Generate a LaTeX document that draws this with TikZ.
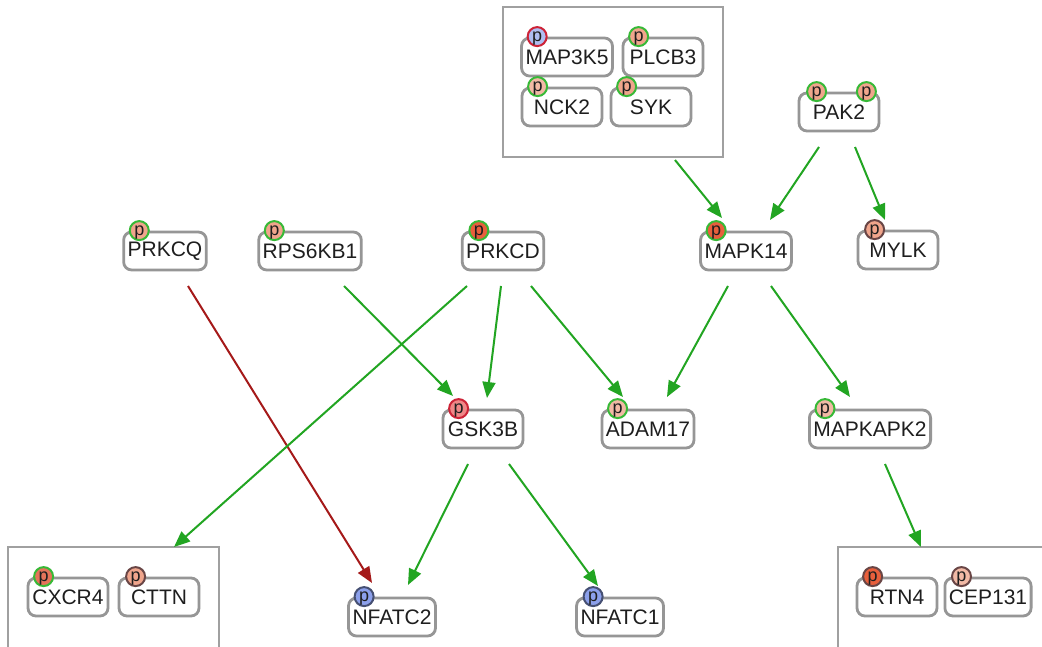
\documentclass[tikz,border=0pt]{standalone}
\usepackage{fontspec}
\setmainfont{Liberation Sans}
\usetikzlibrary{arrows.meta}

\definecolor{boxgray}{RGB}{150,150,150}
\definecolor{grpgray}{RGB}{160,160,160}
\definecolor{txt}{RGB}{30,30,30}
\definecolor{actgreen}{RGB}{34,165,34}
\definecolor{inhred}{RGB}{165,25,25}
\definecolor{ringgreen}{RGB}{55,185,55}
\definecolor{ringred}{RGB}{205,35,55}
\definecolor{ringdark}{RGB}{105,70,70}
\definecolor{ringblue}{RGB}{70,80,115}
\definecolor{fsalmon}{RGB}{240,165,140}
\definecolor{flight}{RGB}{242,185,165}
\definecolor{forange}{RGB}{232,95,60}
\definecolor{fred}{RGB}{230,115,90}
\definecolor{fpink}{RGB}{240,135,135}
\definecolor{fblue}{RGB}{140,160,235}
\definecolor{fpaleblue}{RGB}{175,190,242}

\begin{document}
\begin{tikzpicture}[x=1pt,y=-1pt,
  prot/.style={draw=boxgray, line width=2.8pt, rounded corners=8pt, fill=white,
    minimum height=38pt, minimum width=80pt, inner xsep=4pt, inner ysep=0pt,
    text=txt, font=\fontsize{21}{21}\selectfont},
  ph/.style={circle, line width=2pt, minimum size=19pt, inner sep=0pt,
    text depth=0pt, text height=9pt,
    text=txt, font=\fontsize{18}{18}\selectfont},
  grp/.style={draw=grpgray, line width=1.2pt, fill=none, inner sep=0pt},
  act/.style={draw=actgreen, line width=2pt, -{Triangle[length=16pt,width=13pt]}},
  inh/.style={draw=inhred, line width=2pt, -{Triangle[length=16pt,width=13pt]}}
]
\clip (0,0) rectangle (1042,647);
\fill[white] (0,0) rectangle (1042,647);

% complexes
\node[grp, minimum width=220pt, minimum height=150pt] (cplxA) at (613,82) {};
\node[grp, minimum width=211pt, minimum height=153pt] (cplxB) at (113.5,623.5) {};
\node[grp, minimum width=222pt, minimum height=153pt] (cplxC) at (949,623.5) {};

% proteins
\node[prot] (map3k5) at (567,57) {MAP3K5};
\node[prot] (plcb3) at (663,57) {PLCB3};
\node[prot] (nck2) at (562,107) {NCK2};
\node[prot] (syk) at (651,107) {SYK};
\node[prot] (pak2) at (839,112) {PAK2};
\node[prot] (mylk) at (898,250) {MYLK};
\node[prot] (mapk14) at (746,251) {MAPK14};
\node[prot] (prkcq) at (165,251) {PRKCQ};
\node[prot] (rps6kb1) at (310,251) {RPS6KB1};
\node[prot] (prkcd) at (503,251) {PRKCD};
\node[prot] (gsk3b) at (483,429) {GSK3B};
\node[prot] (adam17) at (648,429) {ADAM17};
\node[prot] (mapkapk2) at (870,429) {MAPKAPK2};
\node[prot] (cxcr4) at (68,597) {CXCR4};
\node[prot] (cttn) at (159,597) {CTTN};
\node[prot] (nfatc2) at (392,617) {NFATC2};
\node[prot] (nfatc1) at (620,617) {NFATC1};
\node[prot] (rtn4) at (897,597) {RTN4};
\node[prot] (cep131) at (988,597) {CEP131};

% phosphorylation sites
\node[ph, draw=ringred, fill=fpaleblue] (map3k5p) at ([shift={(17,0)}]map3k5.north west) {p};
\node[ph, draw=ringgreen, fill=fsalmon] (plcb3p) at ([shift={(17,0)}]plcb3.north west) {p};
\node[ph, draw=ringgreen, fill=flight] (nck2p) at ([shift={(17,0)}]nck2.north west) {p};
\node[ph, draw=ringgreen, fill=fsalmon] (sykp) at ([shift={(17,0)}]syk.north west) {p};
\node[ph, draw=ringgreen, fill=fsalmon] (pak2p) at ([shift={(19,0)}]pak2.north west) {p};
\node[ph, draw=ringgreen, fill=fsalmon] (pak2q) at ([shift={(-14,0)}]pak2.north east) {p};
\node[ph, draw=ringdark, fill=fsalmon] (mylkp) at ([shift={(18,0)}]mylk.north west) {p};
\node[ph, draw=ringgreen, fill=forange] (mapk14p) at ([shift={(17,0)}]mapk14.north west) {p};
\node[ph, draw=ringgreen, fill=fsalmon] (prkcqp) at ([shift={(17,0)}]prkcq.north west) {p};
\node[ph, draw=ringgreen, fill=fsalmon] (rps6kb1p) at ([shift={(17,0)}]rps6kb1.north west) {p};
\node[ph, draw=ringgreen, fill=forange] (prkcdp) at ([shift={(18,0)}]prkcd.north west) {p};
\node[ph, draw=ringred, fill=fpink] (gsk3bp) at ([shift={(17,0)}]gsk3b.north west) {p};
\node[ph, draw=ringgreen, fill=flight] (adam17p) at ([shift={(17,0)}]adam17.north west) {p};
\node[ph, draw=ringgreen, fill=flight] (mapkapk2p) at ([shift={(17,0)}]mapkapk2.north west) {p};
\node[ph, draw=ringgreen, fill=fred] (cxcr4p) at ([shift={(17,0)}]cxcr4.north west) {p};
\node[ph, draw=ringdark, fill=fsalmon] (cttnp) at ([shift={(18,0)}]cttn.north west) {p};
\node[ph, draw=ringblue, fill=fblue] (nfatc2p) at ([shift={(17,0)}]nfatc2.north west) {p};
\node[ph, draw=ringblue, fill=fblue] (nfatc1p) at ([shift={(18,0)}]nfatc1.north west) {p};
\node[ph, draw=ringdark, fill=forange] (rtn4p) at ([shift={(17,0)}]rtn4.north west) {p};
\node[ph, draw=ringdark, fill=flight] (cep131p) at ([shift={(18,0)}]cep131.north west) {p};

% interactions
\draw[act] ([shift={(62,78)}]cplxA.center) -- ([shift={(-24,-33)}]mapk14.center);
\draw[act] ([shift={(-20,35)}]pak2.center) -- ([shift={(24,-31)}]mapk14.center);
\draw[act] ([shift={(16,35)}]pak2.center) -- ([shift={(-13,-30)}]mylk.center);
\draw[inh] ([shift={(23,35)}]prkcq.center) -- ([shift={(-20,-34)}]nfatc2.center);
\draw[act] ([shift={(34,35)}]rps6kb1.center) -- ([shift={(-30,-33)}]gsk3b.center);
\draw[act] ([shift={(-36,35)}]prkcd.center) -- ([shift={(60.5,-76.5)}]cplxB.center);
\draw[act] ([shift={(-2,35)}]prkcd.center) -- ([shift={(4,-31)}]gsk3b.center);
\draw[act] ([shift={(28,35)}]prkcd.center) -- ([shift={(-25,-32)}]adam17.center);
\draw[act] ([shift={(-18,35)}]mapk14.center) -- ([shift={(19,-32)}]adam17.center);
\draw[act] ([shift={(25,35)}]mapk14.center) -- ([shift={(-20,-32)}]mapkapk2.center);
\draw[act] ([shift={(15,35)}]mapkapk2.center) -- ([shift={(-28,-76.5)}]cplxC.center);
\draw[act] ([shift={(-15,35)}]gsk3b.center) -- ([shift={(16,-32)}]nfatc2.center);
\draw[act] ([shift={(26,35)}]gsk3b.center) -- ([shift={(-22,-31)}]nfatc1.center);
\end{tikzpicture}
\end{document}
